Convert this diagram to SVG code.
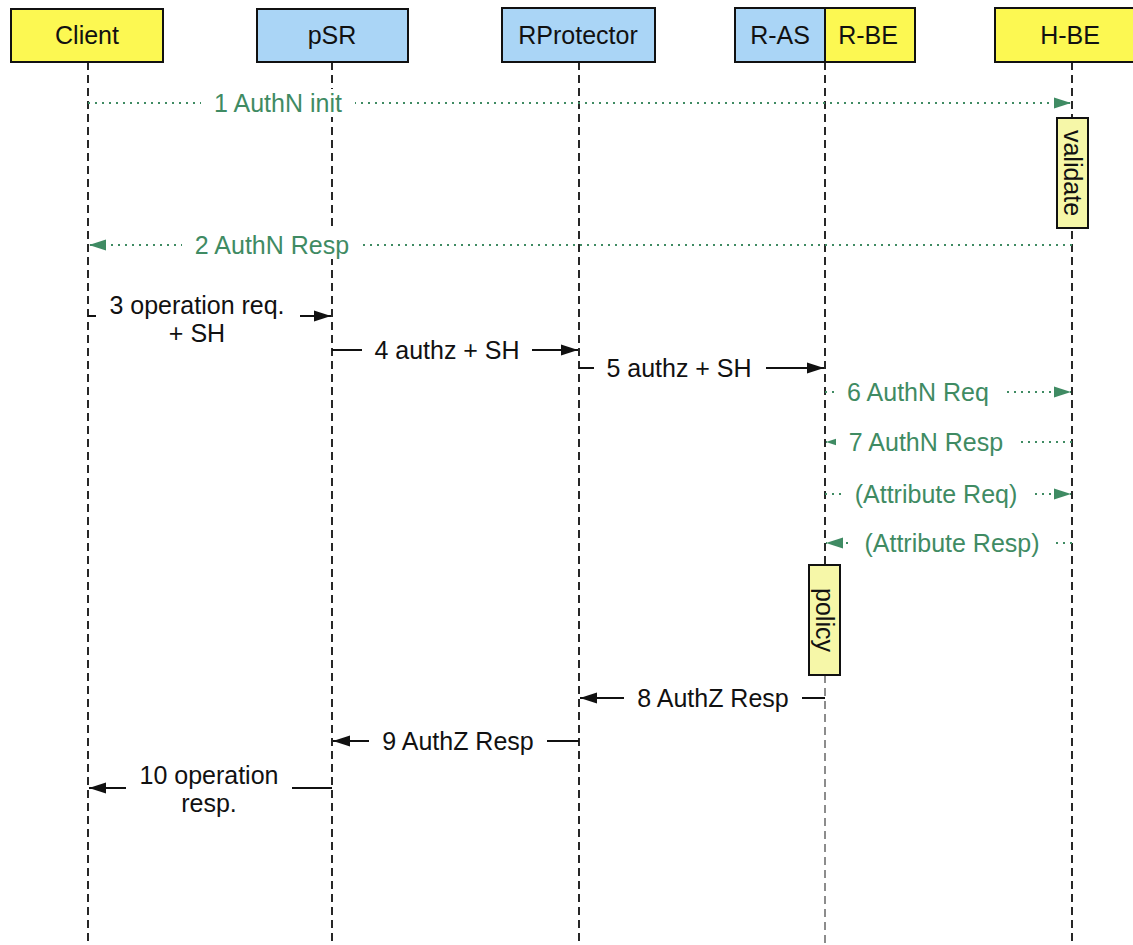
<svg xmlns="http://www.w3.org/2000/svg" width="1133" height="945" viewBox="0 0 1133 945">
  <style>
    text { font-family: "Liberation Sans", Arial, Helvetica, sans-serif; font-size: 25px; text-anchor: middle; }
    .hdr-y { fill: #fcf852; stroke: #111; stroke-width: 2; }
    .hdr-b { fill: #aad5f6; stroke: #111; stroke-width: 2; }
    .life { stroke: #111; stroke-width: 1.8; stroke-dasharray: 8 5; fill: none; }
    .life-g { stroke: #808080; stroke-width: 1.8; stroke-dasharray: 8 5; fill: none; }
    .act { fill: #f6f7a8; stroke: #111; stroke-width: 2; }
    .msg { stroke: #111; stroke-width: 1.8; fill: none; marker-end: url(#ah); }
    .async { stroke: #3f8b63; stroke-width: 1.8; stroke-dasharray: 2 5; fill: none; marker-end: url(#ahg); }
    .lbl { fill: #fff; }
    .t-dark { fill: #111; }
    .t-green { fill: #3f8b63; }
  </style>
  <defs>
    <marker id="ah" markerUnits="userSpaceOnUse" markerWidth="18" markerHeight="14" refX="17" refY="7" orient="auto">
      <path d="M0,1.5 L17,7 L0,12.5 z" fill="#111"/>
    </marker>
    <marker id="ahg" markerUnits="userSpaceOnUse" markerWidth="18" markerHeight="14" refX="17" refY="7" orient="auto">
      <path d="M0,1.5 L17,7 L0,12.5 z" fill="#3f8b63"/>
    </marker>
  </defs>

  <rect width="1133" height="945" fill="#fff"/>

  <!-- participants -->
  <g id="client">
    <line class="life" x1="88" y1="62" x2="88" y2="945"/>
    <rect class="hdr-y" x="11" y="9" width="152" height="53"/>
    <text class="t-dark" x="87" y="44">Client</text>
  </g>
  <g id="psr">
    <line class="life" x1="332" y1="62" x2="332" y2="945"/>
    <rect class="hdr-b" x="257" y="9" width="151" height="53"/>
    <text class="t-dark" x="332" y="44">pSR</text>
  </g>
  <g id="rprotector">
    <line class="life" x1="579" y1="62" x2="579" y2="945"/>
    <rect class="hdr-b" x="502" y="8" width="153" height="54"/>
    <text class="t-dark" x="578" y="44">RProtector</text>
  </g>
  <g id="ras-rbe">
    <line class="life" x1="825" y1="62" x2="825" y2="565"/>
    <line class="life-g" x1="825" y1="675" x2="825" y2="945"/>
    <rect class="hdr-b" x="735" y="8" width="90" height="54"/>
    <rect class="hdr-y" x="825" y="8" width="90" height="54"/>
    <text class="t-dark" x="780" y="44">R-AS</text>
    <text class="t-dark" x="868" y="44">R-BE</text>
  </g>
  <g id="hbe">
    <line class="life" x1="1072" y1="62" x2="1072" y2="945"/>
    <rect class="hdr-y" x="995" y="8" width="160" height="54"/>
    <text class="t-dark" x="1070" y="44">H-BE</text>
  </g>

  <!-- activations -->
  <g id="validate">
    <rect class="act" x="1057" y="118" width="31" height="110"/>
    <text class="t-dark" transform="translate(1072.5 173) rotate(90)" y="9">validate</text>
  </g>
  <g id="policy">
    <rect class="act" x="809" y="565" width="31" height="110"/>
    <text class="t-dark" transform="translate(824.5 620) rotate(90)" y="9">policy</text>
  </g>

  <!-- messages -->
  <g id="connectors">
    <line class="async" x1="88" y1="103" x2="1071" y2="103"/>
    <line class="async" x1="1072" y1="245" x2="89" y2="245"/>
    <line class="msg" x1="88" y1="316" x2="331" y2="316"/>
    <line class="msg" x1="332" y1="350" x2="578" y2="350"/>
    <line class="msg" x1="579" y1="368" x2="824" y2="368"/>
    <line class="async" x1="825" y1="392" x2="1071" y2="392"/>
    <line class="async" x1="1072" y1="442" x2="826" y2="442"/>
    <line class="async" x1="825" y1="494" x2="1071" y2="494"/>
    <line class="async" x1="1072" y1="543" x2="826" y2="543"/>
    <line class="msg" x1="825" y1="698" x2="580" y2="698" stroke="#333"/>
    <line class="msg" x1="579" y1="741" x2="333" y2="741"/>
    <line class="msg" x1="332" y1="788" x2="89" y2="788"/>
  </g>

  <!-- message labels -->
  <g id="labels">
    <rect class="lbl" x="201" y="89" width="154" height="28"/>
    <text class="t-green" x="278" y="112">1 AuthN init</text>

    <rect class="lbl" x="182" y="231" width="181" height="28"/>
    <text class="t-green" x="272" y="254">2 AuthN Resp</text>

    <rect class="lbl" x="96" y="290" width="204" height="58"/>
    <text class="t-dark" x="197" y="314">3 operation req.</text>
    <text class="t-dark" x="197" y="342">+ SH</text>

    <rect class="lbl" x="362" y="336" width="170" height="28"/>
    <text class="t-dark" x="447" y="359">4 authz + SH</text>

    <rect class="lbl" x="594" y="354" width="172" height="28"/>
    <text class="t-dark" x="679" y="377">5 authz + SH</text>

    <rect class="lbl" x="834" y="378" width="169" height="28"/>
    <text class="t-green" x="918" y="401">6 AuthN Req</text>

    <rect class="lbl" x="836" y="428" width="181" height="28"/>
    <text class="t-green" x="926" y="451">7 AuthN Resp</text>

    <rect class="lbl" x="841" y="480" width="190" height="28"/>
    <text class="t-green" x="936" y="503">(Attribute Req)</text>

    <rect class="lbl" x="852" y="529" width="201" height="28"/>
    <text class="t-green" x="952" y="552">(Attribute Resp)</text>

    <rect class="lbl" x="624" y="684" width="178" height="28"/>
    <text class="t-dark" x="713" y="707">8 AuthZ Resp</text>

    <rect class="lbl" x="369" y="727" width="178" height="28"/>
    <text class="t-dark" x="458" y="750">9 AuthZ Resp</text>

    <rect class="lbl" x="126" y="760" width="166" height="58"/>
    <text class="t-dark" x="209" y="784">10 operation</text>
    <text class="t-dark" x="209" y="812">resp.</text>
  </g>
</svg>
